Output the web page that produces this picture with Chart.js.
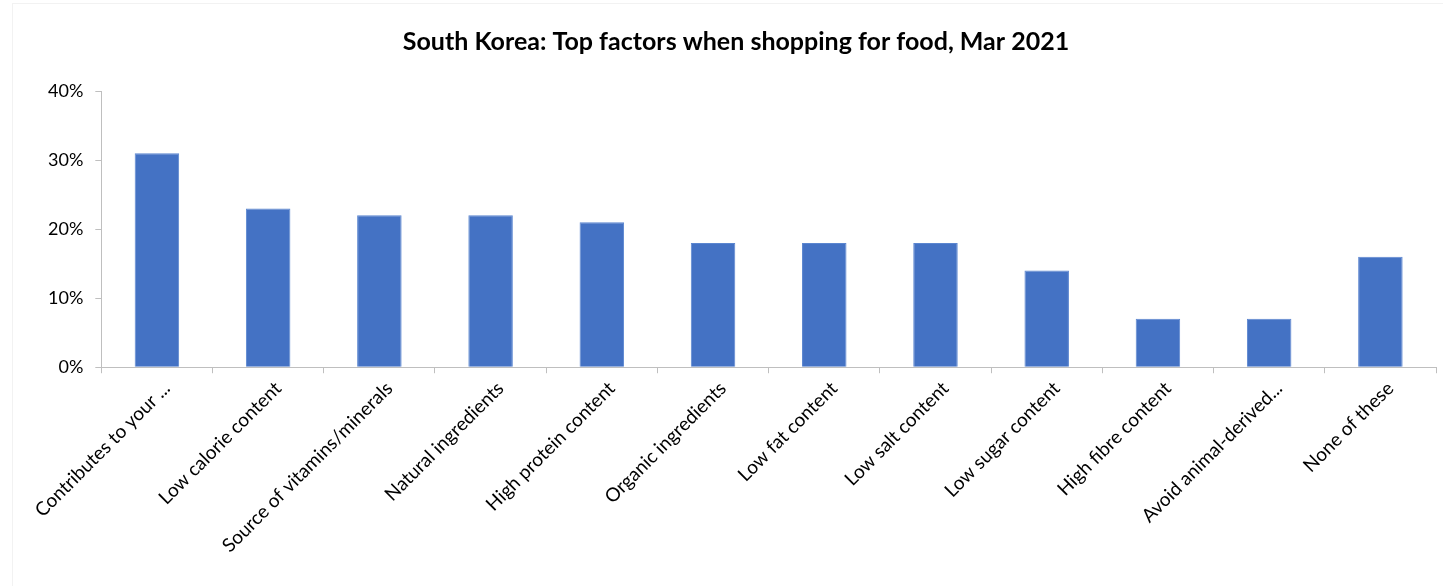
<!DOCTYPE html>
<html lang="en">
<head>
    <meta charset="UTF-8">
    <title>South Korea: Top factors when shopping for food</title>
    <script src="https://cdn.jsdelivr.net/npm/chart.js"></script>
    <style>
        html, body { margin: 0; padding: 0; background: #fff; }
        #wrap { position: relative; width: 1443px; height: 586px; }
        #frame { position: absolute; left: 12px; top: 3px; width: 1440px; height: 600px;
                 border: 1px solid #f2f2f2; box-sizing: border-box; }
    </style>
</head>
<body>
    <div id="wrap">
        <div id="frame"></div>
        <canvas id="foodChart" width="1443" height="586"></canvas>
    </div>

    <script>
        // chart data
        var categories = [
            "Contributes to your ...", "Low calorie content", "Source of vitamins/minerals",
            "Natural ingredients", "High protein content", "Organic ingredients",
            "Low fat content", "Low salt content", "Low sugar content",
            "High fibre content", "Avoid animal-derived...", "None of these"
        ];
        var shares = [31, 23, 22, 22, 21, 18, 18, 18, 14, 7, 7, 16];
        var yTicks = [0, 10, 20, 30, 40];

        var font = "Lato, 'Open Sans', sans-serif";
        var axisGrey = "#bfbfbf";

        new Chart(document.getElementById("foodChart"), {
            type: "bar",
            data: {
                labels: categories,
                datasets: [{
                    data: shares,
                    backgroundColor: "#4472c4",
                    borderColor: "#5b86d0",
                    borderWidth: 1,
                    categoryPercentage: 1,
                    barPercentage: 0.4
                }]
            },
            options: {
                responsive: false,
                animation: false,
                layout: { padding: { left: 36, right: 7, top: 12, bottom: 25 } },
                plugins: {
                    legend: { display: false },
                    tooltip: { enabled: false },
                    title: {
                        display: true,
                        text: "South Korea: Top factors when shopping for food, Mar 2021",
                        color: "#000",
                        font: { family: font, size: 25, weight: "bold" },
                        padding: { top: 15, bottom: 34 }
                    }
                },
                scales: {
                    x: {
                        grid: {
                            offset: true,
                            drawOnChartArea: false,
                            color: axisGrey,
                            tickLength: 6
                        },
                        border: { color: axisGrey, width: 1 },
                        ticks: {
                            color: "#000",
                            maxRotation: 45,
                            minRotation: 45,
                            autoSkip: false,
                            padding: 4,
                            labelOffset: 10,
                            font: { family: font, size: 19 }
                        }
                    },
                    y: {
                        min: 0,
                        max: 40,
                        afterBuildTicks: function (axis) {
                            axis.ticks = yTicks.map(function (v) { return { value: v }; });
                        },
                        grid: {
                            drawOnChartArea: false,
                            color: axisGrey,
                            tickLength: 6
                        },
                        border: { color: axisGrey, width: 1 },
                        ticks: {
                            color: "#000",
                            padding: 12,
                            font: { family: font, size: 18 },
                            callback: function (v) { return v + "%"; }
                        }
                    }
                }
            }
        });
    </script>
</body>
</html>
